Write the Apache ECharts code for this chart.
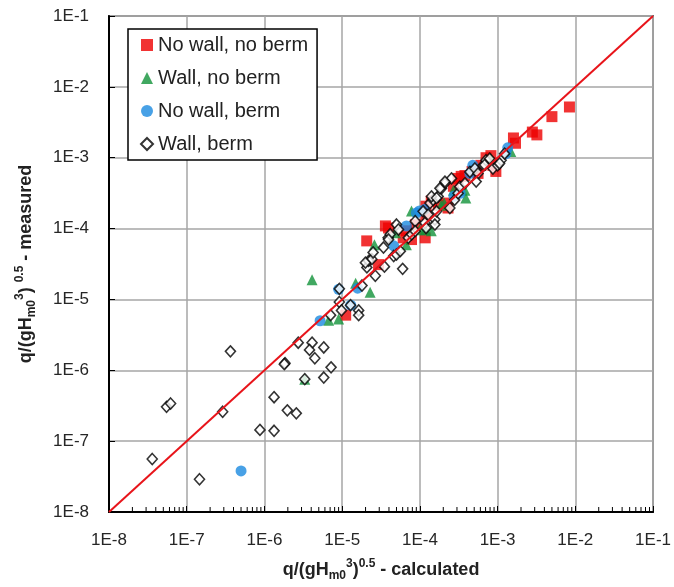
<!DOCTYPE html>
<html>
<head>
<meta charset="utf-8">
<script src="https://cdn.jsdelivr.net/npm/echarts@6/dist/echarts.min.js"></script>
<style>html,body{margin:0;padding:0;background:#fff}#c{width:674px;height:587px}</style>
</head>
<body>
<div id="c"></div>
<script>
// ---- data (x = calculated, y = measured) ----
const noWallNoBerm = [[8.4e-3,5.2e-3],[5.0e-3,3.8e-3],[2.8e-3,2.3e-3],[3.2e-3,2.1e-3],[1.6e-3,1.9e-3],[1.7e-3,1.6e-3],[7.1e-4,1.0e-3],[8.2e-4,1.07e-3],[8.7e-4,7.8e-4],[9.5e-4,6.4e-4],[6.1e-4,7.8e-4],[5.6e-4,6.0e-4],[3.8e-4,5.6e-4],[3.1e-4,5.1e-4],[2.7e-4,3.95e-4],[2.18e-4,2.29e-4],[1.4e-4,2.44e-4],[1.2e-4,1.55e-4],[2.3e-4,1.95e-4],[8.75e-5,1.13e-4],[1.17e-4,7.4e-5],[6.7e-5,9.3e-5],[7.8e-5,7.0e-5],[3.95e-5,1.02e-4],[3.6e-5,1.09e-4],[6.1e-5,7.4e-5],[2.07e-5,6.7e-5],[2.94e-5,3.1e-5],[1.11e-5,6.0e-6],[3.4e-4,5.45e-4],[4.7e-4,6.4e-4],[1.72e-4,2.14e-4],[1.2e-4,2.07e-4]];
const wallNoBerm = [[4.1e-6,1.9e-5],[3.3e-6,7.5e-7],[6.7e-6,5.1e-6],[9.0e-6,5.3e-6],[2.29e-5,1.26e-5],[1.49e-5,1.69e-5],[2.6e-5,5.9e-5],[4.85e-5,8.7e-5],[6.7e-5,5.9e-5],[7.8e-5,1.77e-4],[1.17e-4,9.6e-5],[1.4e-4,9.3e-5],[1.88e-4,2.14e-4],[2.7e-4,3.47e-4],[3.9e-4,2.69e-4],[3.8e-4,3.47e-4],[8.2e-4,9.7e-4],[1.48e-3,1.22e-3],[2.05e-4,2.29e-4],[9.9e-5,9.6e-5]];
const noWallBerm = [[5.0e-7,3.8e-8],[5.2e-6,5.0e-6],[9.0e-6,1.39e-5],[1.29e-5,8.3e-6],[1.58e-5,1.44e-5],[4.6e-5,5.7e-5],[6.7e-5,1.09e-4],[9.85e-5,1.77e-4],[1.16e-4,1.88e-4],[2.75e-4,2.86e-4],[3.3e-4,3.15e-4],[4.8e-4,7.8e-4],[4.4e-4,6.0e-4],[1.35e-3,1.38e-3],[1.28e-3,1.14e-3],[9.0e-5,1.66e-4]];
const wallBerm = [[3.6e-8,5.6e-8],[1.46e-7,2.9e-8],[5.5e-8,3.05e-7],[6.2e-8,3.4e-7],[2.9e-7,2.6e-7],[3.65e-7,1.85e-6],[8.75e-7,1.44e-7],[1.33e-6,1.4e-7],[1.33e-6,4.17e-7],[1.97e-6,2.72e-7],[2.57e-6,2.47e-7],[1.84e-6,1.26e-6],[1.8e-6,1.22e-6],[2.72e-6,2.45e-6],[4.1e-6,2.45e-6],[3.8e-6,1.94e-6],[4.45e-6,1.48e-6],[5.8e-6,2.1e-6],[7.2e-6,1.1e-6],[5.8e-6,7.9e-7],[3.3e-6,7.5e-7],
[9.2e-6,9.2e-6],[9.8e-6,7.0e-6],[7.1e-6,6.0e-6],[1.63e-5,7.0e-6],[1.63e-5,6.0e-6],[9.2e-6,1.41e-5],[1.28e-5,8.3e-6],[1.8e-5,1.57e-5],[2.08e-5,2.83e-5],[2.19e-5,3.5e-5],[2.41e-5,3.7e-5],[2.67e-5,2.16e-5],[3.5e-5,2.9e-5],[3.4e-5,5.4e-5],[3.9e-5,7.4e-5],[4.15e-5,8.3e-5],[4.6e-5,4.1e-5],[5.0e-5,4.3e-5],[6.0e-5,2.7e-5],[1.99e-5,3.3e-5],[2.5e-5,4.6e-5],[5.0e-5,1.14e-4],[5.3e-5,9.7e-5],[7.1e-5,7.4e-5],[7.85e-5,8.3e-5],[8.7e-5,1.27e-4],[1.16e-4,1.2e-4],[1.2e-4,1.02e-4],[1.56e-4,1.34e-4],[1.64e-4,1.75e-4],[1.35e-4,2.29e-4],[1.48e-4,2.54e-4],[1.72e-4,2.84e-4],[1.9e-4,3.7e-4],[2.1e-4,4.35e-4],[1.1e-4,1.75e-4],[1.28e-4,1.57e-4],[2.43e-4,1.95e-4],[2.8e-4,2.54e-4],[3.1e-4,3.15e-4],[3.26e-4,3.9e-4],[3.8e-4,4.35e-4],[4.4e-4,6.3e-4],[5.1e-4,7.05e-4],[5.6e-4,6.0e-4],[6.5e-4,7.8e-4],[7.1e-4,9.2e-4],[7.9e-4,9.7e-4],[8.7e-4,7.05e-4],[1.0e-3,7.8e-4],[1.11e-3,9.2e-4],[1.23e-3,1.14e-3],[6.8e-4,7.9e-4],[5.6e-5,4.8e-5],[3.95e-5,7.0e-5],[8.7e-5,9.2e-5],[1.56e-4,1.14e-4],[2.55e-4,5.1e-4],[5.3e-4,4.6e-4],[1.06e-3,8.3e-4],[1.41e-4,2.84e-4],[1.64e-4,2.7e-4],[1.81e-4,3.7e-4],[2.1e-4,4.6e-4]];
const perfectLine = [[1e-8,1e-8],[1e-1,1e-1]];
const seriesNames = ['No wall, no berm','Wall, no berm','No wall, berm','Wall, berm'];
const axisMin = 1e-8, axisMax = 1e-1;

// minor tick positions (2..9 x 10^k)
const minorVals = [];
for (let k = -8; k < -1; k++) for (let m = 2; m <= 9; m++) minorVals.push(m * Math.pow(10, k));

const FONT = 'Liberation Sans';
const chart = echarts.init(document.getElementById('c'), null, {renderer:'canvas'});
const fmt = v => '1E' + Math.round(Math.log10(v));
const rich = {
  sub:{fontSize:12, fontWeight:'bold', fontFamily:FONT, color:'#222', verticalAlign:'bottom', lineHeight:12},
  sup:{fontSize:12, fontWeight:'bold', fontFamily:FONT, color:'#222', verticalAlign:'top', lineHeight:12}
};
const axisCommon = {
  type:'log', logBase:10, min:axisMin, max:axisMax, splitNumber:7,
  axisLine:{show:true, lineStyle:{color:'#000', width:2}},
  axisTick:{show:true, inside:true, length:6, lineStyle:{color:'#000', width:1}},
  axisLabel:{formatter:fmt, fontSize:17, fontFamily:FONT, color:'#262626', margin:20},
  splitLine:{show:true, lineStyle:{color:'#a6a6a6', width:1.5}},
  minorTick:{show:false}, minorSplitLine:{show:false},
  nameLocation:'middle',
  nameTextStyle:{fontSize:18, fontWeight:'bold', fontFamily:FONT, color:'#222', lineHeight:24, rich:rich}
};
function tickItem(dir){
  return function(params, api){
    const v = api.value(0);
    if (dir === 'x') {
      const p = api.coord([v, axisMin]);
      return {type:'line', shape:{x1:p[0], y1:p[1], x2:p[0], y2:p[1]-5}, style:{stroke:'#000', lineWidth:1}};
    } else {
      const p = api.coord([axisMin, v]);
      return {type:'line', shape:{x1:p[0], y1:p[1], x2:p[0]+5, y2:p[1]}, style:{stroke:'#000', lineWidth:1}};
    }
  };
}
chart.setOption({
  animation:false,
  backgroundColor:'#fff',
  grid:{left:109, top:16, right:18, bottom:70, show:true, borderColor:'#000', borderWidth:1.5, containLabel:false},
  xAxis:Object.assign({}, axisCommon, {
    name:'q/(gH{sub|m0}{sup|3}){sup|0.5} - calculated', nameGap:46
  }),
  yAxis:Object.assign({}, axisCommon, {
    name:'q/(gH{sub|m0}{sup|3}) {sup|0.5} - measured', nameGap:71
  }),
  legend:{
    orient:'vertical', left:128, top:29,
    data:[{name:seriesNames[0], icon:'rect'},{name:seriesNames[1], icon:'triangle'},{name:seriesNames[2], icon:'circle'},{name:seriesNames[3], icon:'diamond'}],
    itemWidth:12, itemHeight:12, itemGap:13,
    padding:[6,9,6,12],
    borderColor:'#000', borderWidth:1.5, backgroundColor:'#fff',
    textStyle:{fontSize:20, fontFamily:FONT, color:'#222', lineHeight:20}
  },
  series:[
    {type:'custom', name:'xminor', silent:true, renderItem:tickItem('x'), data:minorVals.map(v=>[v,axisMin]), z:1},
    {type:'custom', name:'yminor', silent:true, renderItem:tickItem('y'), data:minorVals.map(v=>[axisMin,v]), z:1},
    {type:'scatter', name:seriesNames[0], data:noWallNoBerm, symbol:'rect', symbolSize:11, itemStyle:{color:'#ee0000'}, z:2},
    {type:'scatter', name:seriesNames[1], data:wallNoBerm, symbol:'triangle', symbolSize:[11,11], itemStyle:{color:'#12923a'}, z:3},
    {type:'scatter', name:seriesNames[2], data:noWallBerm, symbol:'circle', symbolSize:11, itemStyle:{color:'#1a8ae0'}, z:4},
    {type:'scatter', name:seriesNames[3], data:wallBerm, symbol:'diamond', symbolSize:[10,11], itemStyle:{color:'#fff', borderColor:'#000', borderWidth:1.6}, z:5},
    {type:'line', name:'line', data:perfectLine, symbol:'none', lineStyle:{color:'#e8141a', width:2}, z:6, silent:true}
  ]
});
</script>
</body>
</html>
